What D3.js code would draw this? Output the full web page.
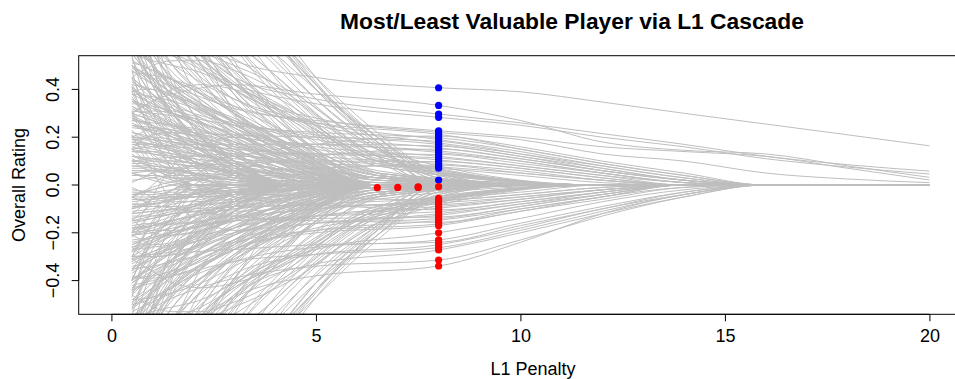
<!DOCTYPE html>
<html>
<head>
<meta charset="utf-8">
<script src="https://cdn.jsdelivr.net/npm/d3@7"></script>
<style>
  body { margin: 0; background: #fff; }
  text { font-family: "Liberation Sans", Arial, sans-serif; fill: #000; }
</style>
</head>
<body>
<div id="chart"></div>
<script>
// penalty knots; a row shorter than its knots drops to zero at the next knot
var tinyX = [0.5, 0.75, 1, 1.5, 2, 3, 4.5];
var shortX = [0.5, 0.75, 1, 1.5, 2, 3, 4.5, 6];
var steepX = [0.5, 1, 2, 3, 4, 5, 6.5, 8, 10];
var earlyX = [0.5, 1, 1.5, 2, 3, 4, 5, 6.5, 11];
var midX = [0.5, 1, 1.5, 2.2, 3, 4.5, 6.5, 12];
var lateX = [0.5, 1, 2, 3, 5, 8, 10, 12, 14, 16, 18, 20];

var tinyPaths = [
  [.54,.4,.3,.18,.1], [.5,.47,.43,.34,.24,.08], [.48,.34,.24,.12,.05], [.43,.41,.38,.3,.2,.06],
  [.39,.3,.22,.12], [.35,.34,.32,.26,.18,.05], [.31,.24,.17,.08], [.27,.26,.25,.2,.14,.04],
  [.23,.18,.12,.05], [.19,.19,.18,.15,.1,.03], [.11,.09,.07,.03], [.07,.07,.06,.05,.03],
  [.58,.5,.44,.34,.25,.1], [.66,.52,.42,.28,.18,.06], [.75,.6,.5,.36,.26,.1], [.9,.66,.5,.32,.2,.06],
  [1,.8,.64,.44,.3,.1], [1.2,.85,.62,.38,.24,.08], [.2,.22,.24,.23,.2,.1], [.01,.03,.05,.06,.05,.02],
  [-.55,-.41,-.31,-.19,-.1], [-.51,-.48,-.44,-.35,-.25,-.09], [-.47,-.33,-.23,-.11,-.04], [-.44,-.42,-.39,-.31,-.21,-.07],
  [-.4,-.31,-.23,-.13], [-.34,-.33,-.31,-.25,-.17,-.05], [-.3,-.23,-.16,-.07], [-.26,-.25,-.24,-.19,-.13,-.04],
  [-.22,-.17,-.11,-.04], [-.18,-.18,-.17,-.14,-.09,-.03], [-.1,-.08,-.06,-.02], [-.06,-.06,-.05,-.04,-.02],
  [-.59,-.51,-.45,-.35,-.26,-.11], [-.67,-.53,-.43,-.29,-.19,-.07], [-.76,-.61,-.51,-.37,-.27,-.11], [-.91,-.67,-.51,-.33,-.21,-.07],
  [-1.02,-.82,-.65,-.45,-.31,-.11], [-1.22,-.87,-.63,-.39,-.25,-.09], [-.21,-.23,-.25,-.24,-.21,-.11], [-.01,-.03,-.05,-.06,-.05,-.02]
];

var shortPaths = [
  [.53,.44,.36,.24,.14,.04], [.49,.46,.42,.35,.27,.14,.02], [.45,.36,.28,.17,.08], [.41,.38,.35,.29,.22,.1],
  [.37,.3,.24,.15,.08,.01], [.33,.31,.29,.25,.2,.1,.02], [.29,.23,.18,.1,.04], [.25,.24,.23,.2,.16,.08],
  [.21,.17,.13,.07,.02], [.17,.16,.15,.13,.1,.05], [.13,.1,.07,.03], [.09,.09,.08,.07,.05,.02],
  [.05,.04,.03,.01], [.51,.5,.48,.44,.38,.26,.1], [.39,.4,.4,.38,.34,.24,.08], [.27,.3,.31,.3,.27,.19,.06],
  [.15,.19,.21,.22,.21,.15,.05], [.6,.5,.42,.3,.2,.08], [.7,.56,.45,.3,.18,.05], [.8,.64,.52,.36,.24,.1],
  [-.52,-.43,-.35,-.23,-.13,-.03], [-.48,-.45,-.41,-.34,-.26,-.13,-.02], [-.44,-.35,-.27,-.16,-.07], [-.4,-.37,-.34,-.28,-.21,-.09],
  [-.36,-.29,-.23,-.14,-.07], [-.32,-.3,-.28,-.24,-.19,-.09,-.01], [-.28,-.22,-.17,-.09,-.03], [-.24,-.23,-.22,-.19,-.15,-.07],
  [-.2,-.16,-.12,-.06,-.01], [-.16,-.15,-.14,-.12,-.09,-.04], [-.12,-.09,-.06,-.02], [-.08,-.08,-.07,-.06,-.04,-.01],
  [-.04,-.03,-.02], [-.5,-.49,-.47,-.43,-.37,-.25,-.09], [-.38,-.39,-.39,-.37,-.33,-.23,-.07], [-.26,-.29,-.3,-.29,-.26,-.18,-.05],
  [-.14,-.18,-.2,-.21,-.2,-.14,-.04], [-.62,-.52,-.43,-.31,-.2,-.07], [-.72,-.58,-.47,-.32,-.19,-.06], [-.82,-.66,-.54,-.38,-.25,-.11]
];

var steepPaths = [
  [2.5,1.6,.9,.6,.4,.25,.1], [3,2,1.1,.7,.45,.28,.12], [2.2,1.5,.95,.68,.5,.33,.15,.03],
  [1.8,1.3,.85,.62,.46,.32,.15,.02], [3.5,2.3,1.3,.82,.55,.36,.16,.03], [2.8,2,1.25,.85,.6,.4,.18,.04],
  [4,2.6,1.5,.95,.62,.4,.17,.02], [1.6,1.25,.9,.7,.55,.4,.2,.05], [2,1.6,1.1,.8,.6,.42,.2,.04],
  [3.2,2.2,1.4,.95,.68,.45,.2,.03], [1.4,1.2,.95,.78,.62,.45,.22,.05], [2.6,1.9,1.3,.92,.65,.43,.18],
  [1.3,1.1,.85,.68,.52,.36,.16], [5,3,1.6,1,.65,.42,.18], [1.2,1.05,.88,.75,.6,.42,.18],
  [2.4,1.55,.85,.52,.3,.15,.04], [1.9,1.2,.7,.45,.28,.14], [1.5,1,.6,.4,.24,.1],
  [1.25,.95,.65,.48,.32,.18,.05], [1.1,.95,.75,.6,.46,.3,.12],
  [-2.6,-1.7,-.95,-.62,-.41,-.26,-.1], [-3.1,-2.1,-1.15,-.72,-.47,-.29,-.12], [-2.3,-1.55,-.98,-.7,-.51,-.34,-.16,-.03],
  [-1.85,-1.33,-.88,-.64,-.48,-.33,-.16,-.02], [-3.6,-2.4,-1.35,-.85,-.57,-.37,-.17,-.03], [-2.9,-2.05,-1.28,-.87,-.62,-.41,-.19,-.04],
  [-4.2,-2.7,-1.55,-.98,-.64,-.41,-.18,-.02], [-1.65,-1.28,-.93,-.72,-.57,-.41,-.21,-.05], [-2.1,-1.65,-1.13,-.82,-.62,-.44,-.21,-.04],
  [-3.3,-2.25,-1.43,-.97,-.7,-.47,-.21,-.03], [-1.45,-1.23,-.98,-.8,-.64,-.47,-.23,-.05], [-2.7,-1.95,-1.33,-.94,-.67,-.45,-.19],
  [-1.35,-1.13,-.88,-.7,-.54,-.38,-.17], [-5,-3.1,-1.65,-1.03,-.67,-.44,-.19], [-1.22,-1.08,-.9,-.77,-.62,-.44,-.19],
  [-2.45,-1.6,-.88,-.54,-.31,-.16,-.04], [-1.95,-1.24,-.72,-.47,-.29,-.15], [-1.55,-1.03,-.62,-.41,-.25,-.11],
  [-1.28,-.98,-.67,-.5,-.34,-.19,-.05], [-1.12,-.97,-.77,-.62,-.48,-.32,-.13]
];

var earlyPaths = [
  [1.2,.9,.7,.55,.35,.2,.08,0], [.9,.7,.55,.45,.3,.18,.07,0], [.7,.55,.45,.38,.26,.15,.05,0],
  [.55,.45,.38,.32,.22,.12,.04,0], [.45,.38,.32,.27,.18,.1,.03,0], [.35,.3,.26,.22,.15,.08,.02,0],
  [.28,.25,.21,.18,.12,.06,0,0], [.22,.2,.17,.14,.09,.04,0,0], [.15,.13,.11,.09,.05,.02,0,0],
  [.1,.09,.07,.05,.02,0,0,0], [1.6,1.1,.8,.6,.38,.24,.12,.03], [2,1.3,.9,.66,.4,.25,.13,.04],
  [.8,.62,.5,.42,.3,.2,.11,.03], [.62,.5,.42,.36,.27,.18,.1,.02], [.5,.44,.38,.33,.25,.17,.09,.02],
  [.4,.36,.32,.28,.2,.13,.07,.01], [.32,.28,.25,.22,.17,.11,.06,.01], [.25,.22,.2,.18,.14,.1,.05,.01],
  [.18,.17,.15,.13,.1,.07,.04,0], [.12,.11,.1,.09,.07,.05,.02,0], [.06,.06,.05,.05,.04,.03,.01,0],
  [1,.75,.62,.52,.4,.28,.15,.04], [1.4,.95,.72,.58,.42,.3,.17,.05], [.75,.58,.47,.4,.31,.22,.14,.05],
  [.58,.47,.4,.35,.28,.2,.12,.04], [.48,.42,.37,.32,.25,.18,.11,.04], [.38,.34,.3,.27,.21,.15,.09,.03],
  [.3,.27,.24,.22,.18,.13,.08,.03], [.2,.19,.18,.16,.13,.1,.07,.03], [.14,.13,.12,.11,.09,.07,.05,.02],
  [.08,.08,.07,.07,.06,.05,.03,.01], [1.8,1,.6,.4,.2,.1,.03,0], [.95,.6,.42,.3,.16,.07,.01,0],
  [.65,.42,.3,.22,.12,.05,0,0], [.42,.3,.22,.16,.08,.02,0,0], [.3,.2,.14,.1,.04,0,0,0],
  [.04,.04,.03,.03,.02,.01,0,0], [.02,.03,.04,.04,.03,.02,.01,0], [-.05,-.02,0,.02,.03,.02,.01,0],
  [-.15,-.08,-.02,.02,.04,.04,.02,0], [.9,.85,.75,.62,.3,.05,-.04,0], [2.4,1.5,1,.75,.5,.33,.2,.06],
  [3,1.2,.7,.5,.3,.18,.09,.02], [.6,.62,.6,.56,.45,.3,.14,.03], [1.1,1,.85,.7,.45,.26,.1,0],
  [-1.3,-.95,-.72,-.56,-.34,-.19,-.07,0], [-.95,-.72,-.56,-.45,-.29,-.17,-.06,0], [-.72,-.56,-.46,-.38,-.25,-.14,-.05,0],
  [-.57,-.46,-.38,-.31,-.21,-.11,-.03,0], [-.46,-.38,-.31,-.26,-.17,-.09,-.02,0], [-.36,-.3,-.25,-.21,-.14,-.07,-.01,0],
  [-.27,-.24,-.2,-.17,-.11,-.05,0,0], [-.21,-.19,-.16,-.13,-.08,-.03,0,0], [-.14,-.12,-.1,-.08,-.04,-.01,0,0],
  [-.09,-.08,-.06,-.04,-.02,0,0,0], [-1.7,-1.15,-.82,-.62,-.37,-.22,-.1,-.02], [-2.1,-1.35,-.92,-.67,-.39,-.23,-.12,-.03],
  [-.82,-.63,-.51,-.42,-.29,-.19,-.1,-.03], [-.64,-.52,-.43,-.36,-.26,-.17,-.09,-.02], [-.52,-.45,-.38,-.33,-.24,-.16,-.08,-.02],
  [-.41,-.36,-.32,-.28,-.2,-.13,-.07,-.01], [-.33,-.29,-.26,-.23,-.17,-.11,-.06,-.01], [-.26,-.23,-.2,-.18,-.14,-.1,-.05,-.01],
  [-.19,-.17,-.15,-.13,-.1,-.07,-.04,0], [-.12,-.11,-.1,-.09,-.07,-.05,-.02,0], [-.06,-.06,-.05,-.05,-.04,-.03,-.01,0],
  [-1.05,-.78,-.63,-.53,-.4,-.28,-.15,-.04], [-1.5,-.98,-.74,-.59,-.42,-.29,-.16,-.05], [-.78,-.6,-.48,-.41,-.31,-.22,-.13,-.05],
  [-.6,-.49,-.41,-.35,-.27,-.2,-.12,-.04], [-.49,-.43,-.37,-.32,-.25,-.18,-.11,-.04], [-.39,-.35,-.31,-.27,-.21,-.15,-.09,-.03],
  [-.31,-.28,-.25,-.22,-.18,-.13,-.08,-.03], [-.21,-.2,-.18,-.16,-.13,-.1,-.06,-.02], [-.15,-.14,-.12,-.11,-.09,-.07,-.04,-.01],
  [-.08,-.08,-.07,-.07,-.06,-.05,-.03,-.01], [-1.9,-1.05,-.62,-.41,-.2,-.09,-.02,0], [-1,-.62,-.43,-.3,-.15,-.06,0,0],
  [-.68,-.44,-.31,-.22,-.11,-.04,0,0], [-.44,-.31,-.22,-.15,-.07,-.02,0,0], [-.31,-.21,-.14,-.09,-.03,0,0,0],
  [-.04,-.04,-.03,-.03,-.02,-.01,0,0], [-.02,-.03,-.04,-.04,-.03,-.02,-.01,0], [.05,.02,0,-.02,-.03,-.02,-.01,0],
  [.15,.08,.02,-.02,-.04,-.04,-.02,0], [-.9,-.88,-.78,-.66,-.4,-.15,.02,0], [-2.5,-1.6,-1.05,-.78,-.52,-.34,-.2,-.05],
  [-3,-1.25,-.72,-.5,-.3,-.17,-.08,-.01], [-.62,-.64,-.62,-.58,-.47,-.32,-.15,-.03], [-1.15,-1.02,-.86,-.72,-.47,-.27,-.1,0]
];

var midPaths = [
  [.52,.48,.44,.38,.3,.16,0], [.5,.42,.35,.28,.2,.09,0], [.47,.46,.44,.4,.33,.2,0],
  [.44,.36,.3,.24,.17,.07,0], [.42,.4,.37,.33,.26,.14,0], [.4,.33,.27,.2,.13,.04,0],
  [.38,.37,.35,.31,.24,.12,0], [.36,.3,.25,.19,.12,.03,0], [.34,.33,.31,.28,.22,.11,0],
  [.33,.27,.22,.17,.1,.02,0], [.31,.3,.29,.26,.21,.1,0], [.29,.25,.2,.15,.09,.02,0],
  [.27,.26,.25,.23,.18,.09,0], [.26,.22,.18,.13,.07,.01,0], [.24,.23,.22,.2,.16,.08,0],
  [.22,.19,.16,.12,.06,0,0], [.2,.2,.19,.17,.14,.07,0], [.19,.17,.14,.1,.05,0,0],
  [.17,.17,.16,.15,.12,.06,0], [.16,.14,.12,.09,.04,0,0], [.14,.14,.13,.12,.1,.05,0],
  [.12,.11,.09,.07,.03,0,0], [.1,.1,.1,.09,.08,.04,0], [.08,.07,.06,.04,.02,0,0],
  [.06,.06,.06,.06,.05,.03,0], [.04,.04,.03,.02,.01,0,0], [.55,.52,.5,.47,.4,.26,.08],
  [.6,.5,.41,.32,.22,.1,0], [.65,.6,.55,.5,.42,.28,.1], [.7,.55,.44,.34,.23,.1,0],
  [.75,.68,.6,.52,.42,.27,.09], [.85,.65,.5,.38,.26,.12,0], [.95,.8,.66,.55,.43,.28,.1],
  [1.05,.78,.58,.43,.29,.13,0], [1.2,.95,.76,.6,.45,.29,.1], [1.3,.9,.64,.47,.31,.14,0],
  [1.5,1.1,.82,.64,.47,.3,.11], [1.7,1.05,.7,.5,.32,.15,0], [2.2,1.4,.95,.7,.5,.32,.12],
  [2.6,1.5,.9,.6,.38,.18,.02], [.58,.56,.56,.55,.5,.38,.15], [.68,.66,.64,.6,.53,.36,.13],
  [.9,.9,.85,.78,.6,.34,.08], [1,.95,.9,.8,.58,.3,.05], [.45,.5,.52,.52,.48,.35,.12],
  [.3,.35,.4,.42,.4,.3,.1], [-.2,-.05,.08,.16,.2,.14,0], [-.4,-.2,-.05,.06,.12,.1,0],
  [-.6,-.35,-.15,0,.08,.06,0], [.8,.5,.25,.08,-.02,-.02,0],
  [-.53,-.49,-.45,-.39,-.31,-.17,0], [-.51,-.43,-.36,-.29,-.21,-.1,0], [-.48,-.47,-.45,-.41,-.34,-.21,0],
  [-.45,-.37,-.31,-.25,-.18,-.08,0], [-.43,-.41,-.38,-.34,-.27,-.15,0], [-.41,-.34,-.28,-.21,-.14,-.05,0],
  [-.39,-.38,-.36,-.32,-.25,-.13,0], [-.37,-.31,-.26,-.2,-.13,-.04,0], [-.35,-.34,-.32,-.29,-.23,-.12,0],
  [-.32,-.26,-.21,-.16,-.09,-.02,0], [-.3,-.29,-.28,-.25,-.2,-.1,0], [-.28,-.24,-.19,-.14,-.08,-.01,0],
  [-.27,-.26,-.25,-.23,-.18,-.09,0], [-.25,-.21,-.17,-.12,-.06,0,0], [-.23,-.22,-.21,-.19,-.15,-.07,0],
  [-.21,-.18,-.15,-.11,-.05,0,0], [-.2,-.19,-.19,-.17,-.14,-.07,0], [-.18,-.16,-.13,-.09,-.04,0,0],
  [-.17,-.16,-.16,-.15,-.12,-.06,0], [-.15,-.13,-.11,-.08,-.03,0,0], [-.13,-.13,-.12,-.11,-.09,-.05,0],
  [-.11,-.1,-.08,-.06,-.03,0,0], [-.09,-.09,-.09,-.08,-.07,-.04,0], [-.07,-.06,-.05,-.03,-.01,0,0],
  [-.05,-.05,-.05,-.05,-.04,-.02,0], [-.03,-.03,-.02,-.02,-.01,0,0], [-.56,-.53,-.51,-.48,-.41,-.27,-.09],
  [-.61,-.51,-.42,-.33,-.23,-.11,0], [-.66,-.61,-.56,-.51,-.43,-.29,-.11], [-.71,-.56,-.45,-.35,-.24,-.11,0],
  [-.77,-.69,-.61,-.53,-.43,-.28,-.1], [-.86,-.66,-.51,-.39,-.27,-.13,0], [-.97,-.81,-.67,-.56,-.44,-.29,-.11],
  [-1.07,-.79,-.59,-.44,-.3,-.14,0], [-1.22,-.96,-.77,-.61,-.46,-.3,-.11], [-1.33,-.91,-.65,-.48,-.32,-.15,0],
  [-1.55,-1.12,-.83,-.65,-.48,-.31,-.12], [-1.75,-1.07,-.71,-.51,-.33,-.16,0], [-2.3,-1.42,-.96,-.71,-.51,-.33,-.13],
  [-2.7,-1.52,-.91,-.61,-.39,-.19,-.02], [-.59,-.57,-.57,-.56,-.51,-.39,-.16], [-.69,-.67,-.65,-.61,-.54,-.37,-.14],
  [-.92,-.91,-.86,-.79,-.61,-.35,-.09], [-1.02,-.97,-.91,-.81,-.59,-.31,-.06], [-.46,-.51,-.53,-.53,-.49,-.36,-.13],
  [-.31,-.36,-.41,-.43,-.41,-.31,-.11], [.21,.06,-.07,-.15,-.19,-.13,0], [.41,.21,.06,-.05,-.11,-.09,0],
  [.62,.36,.16,.01,-.07,-.05,0], [-.82,-.51,-.26,-.09,.01,.02,0]
];

var blueLate = [
  [.9,.75,.6,.52,.45,.407,.39,.347,.3,.255,.21,.164],
  [.3,.35,.4,.42,.38,.333,.27,.18,.145,.13,.08,.032],
  [1.1,.85,.6,.45,.36,.297,.26,.215,.17,.12,.085,.058],
  [.7,.6,.5,.42,.34,.283,.25,.2,.16,.11,.075,.046],
  [.5,.45,.38,.32,.27,.227,.2,.16,.14,.12,.07,.021],
  [1.4,.9,.55,.4,.28,.22,.19,.13,.1,.05,.025,.01],
  [.6,.5,.4,.33,.26,.212,.16,.1,.05,0],
  [-.1,0,.08,.12,.17,.205,.15,.09,.04,0],
  [.35,.32,.28,.25,.22,.198,.15,.09,.04,0],
  [.8,.6,.45,.36,.26,.19,.14,.08,.03,0],
  [.25,.24,.22,.21,.2,.183,.13,.08,.03,0],
  [1,.7,.48,.36,.25,.176,.13,.07,.02,0],
  [.45,.38,.3,.26,.21,.17,.12,.07,.02,0],
  [.15,.16,.17,.17,.17,.163,.12,.06,.02,0],
  [.55,.45,.34,.27,.2,.156,.11,.06,.02,0],
  [-.3,-.15,0,.06,.12,.15,.11,.06,.02,0],
  [.3,.27,.23,.2,.17,.143,.1,.05,.01,0],
  [.65,.5,.36,.27,.19,.136,.1,.05,.01,0],
  [.1,.11,.12,.13,.13,.128,.09,.05,.01,0],
  [.4,.34,.27,.22,.16,.12,.08,.04,.01,0],
  [.2,.19,.17,.15,.13,.113,.08,.04,0],
  [.75,.52,.34,.24,.15,.105,.07,.03,0],
  [.05,.06,.08,.09,.1,.098,.07,.03,0],
  [.28,.24,.19,.16,.12,.09,.06,.02,0],
  [-.05,-.01,.03,.05,.07,.083,.05,.02,0],
  [.5,.38,.25,.18,.11,.076,.05,.02,0],
  [.18,.16,.13,.11,.09,.07,.04,.01,0],
  [.12,.1,.08,.06,.04,.021,.01,0]
];

var redLate = [
  [-.1,-.08,-.05,-.03,-.02,-.007,0],
  [-.2,-.17,-.13,-.1,-.08,-.056,-.03,0],
  [.1,.05,0,-.03,-.05,-.062,-.04,-.01,0],
  [-.5,-.35,-.22,-.15,-.1,-.068,-.04,-.01,0],
  [-.3,-.25,-.18,-.14,-.1,-.075,-.05,-.02,0],
  [-.12,-.11,-.1,-.09,-.085,-.082,-.05,-.02,0],
  [-.8,-.55,-.32,-.21,-.13,-.09,-.06,-.02,0],
  [-.4,-.33,-.24,-.18,-.13,-.097,-.06,-.02,0],
  [.2,.1,0,-.05,-.08,-.104,-.07,-.03,0],
  [-.25,-.22,-.18,-.15,-.13,-.112,-.07,-.03,0],
  [-1.2,-.8,-.45,-.3,-.18,-.12,-.08,-.03,0],
  [-.6,-.45,-.3,-.23,-.16,-.127,-.08,-.04,0],
  [-.18,-.17,-.16,-.15,-.14,-.134,-.09,-.04,0],
  [-.35,-.3,-.24,-.2,-.16,-.141,-.09,-.04,0],
  [-.9,-.62,-.38,-.27,-.19,-.148,-.1,-.05,0],
  [-.05,-.08,-.11,-.13,-.15,-.156,-.1,-.05,0],
  [-.45,-.38,-.3,-.24,-.19,-.163,-.11,-.05,-.01,0],
  [-.7,-.52,-.36,-.27,-.2,-.17,-.11,-.06,-.01,0],
  [-1.5,-1,-.6,-.42,-.27,-.2,-.14,-.07,-.02,0],
  [-.55,-.48,-.38,-.32,-.26,-.23,-.16,-.09,-.03,0],
  [-.3,-.3,-.28,-.27,-.25,-.24,-.17,-.1,-.03,0],
  [-.95,-.7,-.48,-.37,-.29,-.25,-.18,-.1,-.04,0],
  [-.42,-.4,-.36,-.32,-.29,-.262,-.19,-.11,-.04,0],
  [-1.8,-1.1,-.65,-.46,-.33,-.272,-.2,-.12,-.05,0],
  [-.6,-.52,-.44,-.39,-.34,-.314,-.23,-.13,-.05,0],
  [-1.1,-.8,-.58,-.47,-.38,-.339,-.24,-.12,-.04,0]
];

// red points where players dropped out just before penalty 8
var dropX = [6.5, 7, 7.5, 7.5];
var dropY = [-.011, -.01, -.01, -.008];

var xTicks = [0, 5, 10, 15, 20];
var yTicks = [-0.4, -0.2, 0.0, 0.2, 0.4];
var markX = 8;

var width = 955, height = 379;
var plotL = 78.7, plotT = 55.7, plotB = 314.3;

var x = d3.scaleLinear().domain([-0.8, 20.8]).range([plotL, plotL + 21.6 * 40.9]);
var y = d3.scaleLinear().domain([-0.541, 0.541]).range([plotB, plotT]);

var svg = d3.select("#chart").append("svg")
    .attr("width", width)
    .attr("height", height);

svg.append("clipPath").attr("id", "clip")
  .append("rect")
    .attr("x", plotL).attr("y", plotT)
    .attr("width", x.range()[1] - plotL).attr("height", plotB - plotT);

// row -> points; a short row falls to zero at its next knot, then stays at zero
function toPoints(knots, row) {
  var pts = row.map(function(v, i) { return [knots[i], v]; });
  if (row.length < knots.length) pts.push([knots[row.length], 0]);
  if (pts[pts.length - 1][0] < 20) pts.push([20, 0]);
  return pts;
}

var line = d3.line()
    .x(function(d) { return x(d[0]); })
    .y(function(d) { return y(d[1]); })
    .curve(d3.curveMonotoneX);

var paths = tinyPaths.map(function(r) { return toPoints(tinyX, r); })
  .concat(shortPaths.map(function(r) { return toPoints(shortX, r); }))
  .concat(steepPaths.map(function(r) { return toPoints(steepX, r); }))
  .concat(earlyPaths.map(function(r) { return toPoints(earlyX, r); }))
  .concat(midPaths.map(function(r) { return toPoints(midX, r); }))
  .concat(blueLate.map(function(r) { return toPoints(lateX, r); }))
  .concat(redLate.map(function(r) { return toPoints(lateX, r); }));

svg.append("g").attr("clip-path", "url(#clip)")
  .selectAll("path")
  .data(paths)
  .enter().append("path")
    .attr("d", line)
    .attr("fill", "none")
    .attr("stroke", "#bebebe")
    .attr("stroke-width", 1);

var pts = svg.append("g");
pts.selectAll(".blue")
  .data(blueLate)
  .enter().append("circle")
    .attr("cx", x(markX))
    .attr("cy", function(d) { return y(d[lateX.indexOf(markX)]); })
    .attr("r", 3.6)
    .attr("fill", "blue");

pts.selectAll(".red")
  .data(redLate)
  .enter().append("circle")
    .attr("cx", x(markX))
    .attr("cy", function(d) { return y(d[lateX.indexOf(markX)]); })
    .attr("r", 3.6)
    .attr("fill", "red");

pts.selectAll(".drop")
  .data(dropX)
  .enter().append("circle")
    .attr("cx", function(d) { return x(d); })
    .attr("cy", function(d, i) { return y(dropY[i]); })
    .attr("r", 3.6)
    .attr("fill", "red");

// box
svg.append("rect")
    .attr("x", plotL).attr("y", plotT)
    .attr("width", x.range()[1] - plotL).attr("height", plotB - plotT)
    .attr("fill", "none")
    .attr("stroke", "#000")
    .attr("stroke-width", 1);

// x axis
var xAxis = svg.append("g")
    .attr("transform", "translate(0," + plotB + ")")
    .call(d3.axisBottom(x).tickValues(xTicks).tickSize(7).tickPadding(8).tickFormat(d3.format("d")));
xAxis.select(".domain").attr("d", "M" + x(0) + ",0H" + x(20));
xAxis.selectAll("text").style("font-size", "18px").style("font-family", "Liberation Sans, Arial, sans-serif");

// y axis
var yAxis = svg.append("g")
    .attr("transform", "translate(" + plotL + ",0)")
    .call(d3.axisLeft(y).tickValues(yTicks).tickSize(7).tickFormat(d3.format(".1f")));
yAxis.select(".domain").attr("d", "M0," + y(-0.4) + "V" + y(0.4));
yAxis.selectAll("text")
    .attr("transform", function(d) { return "translate(-26," + y(d) + ") rotate(-90)"; })
    .attr("x", 0).attr("y", 0).attr("dy", "0.35em")
    .style("text-anchor", "middle")
    .style("font-size", "18px")
    .style("font-family", "Liberation Sans, Arial, sans-serif")
    .text(function(d) { return d3.format(".1f")(d).replace("-", "\u2212"); });
yAxis.selectAll(".tick").attr("transform", null);
yAxis.selectAll(".tick line").attr("transform", function(d) { return "translate(0," + y(d) + ")"; });

svg.append("text")
    .attr("x", 572).attr("y", 29)
    .attr("text-anchor", "middle")
    .style("font-size", "22.8px")
    .style("font-weight", "bold")
    .text("Most/Least Valuable Player via L1 Cascade");

svg.append("text")
    .attr("x", 533).attr("y", 375)
    .attr("text-anchor", "middle")
    .style("font-size", "18px")
    .text("L1 Penalty");

svg.append("text")
    .attr("transform", "translate(25,185) rotate(-90)")
    .attr("text-anchor", "middle")
    .style("font-size", "18px")
    .text("Overall Rating");
</script>
</body>
</html>
